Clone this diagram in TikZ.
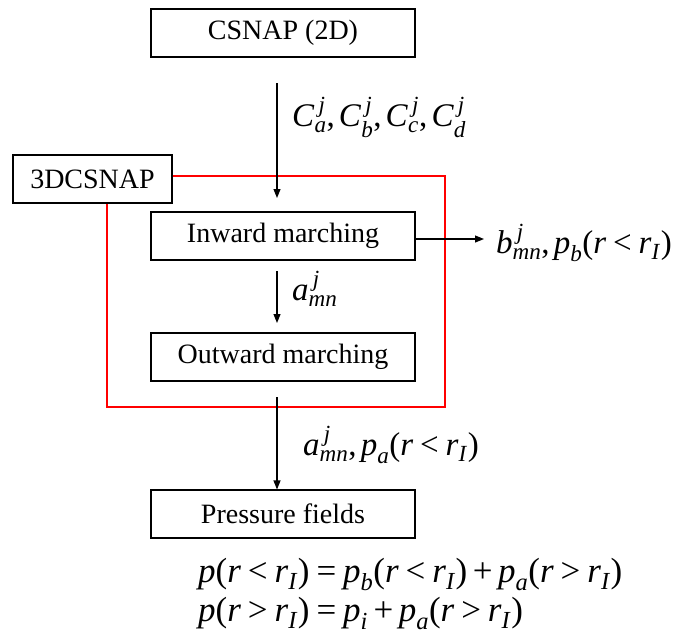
\documentclass[tikz,border=0pt]{standalone}
\usepackage{amsmath}
\usepackage{fontspec}
\setmainfont{Liberation Serif}
\usetikzlibrary{arrows.meta,calc}
\newcommand{\mv}[1]{\textit{#1\/}}
\newcommand{\sj}{^{\mkern3mu\mv{j}}}
\newcommand{\mlt}{\mathrel{\text{<}}}
\newcommand{\mgt}{\mathrel{\text{>}}}
\newcommand{\meq}{\mathrel{\text{=}}}
\newcommand{\mplus}{\mathbin{\text{+}}}
\newcommand{\mlp}{\text{(}}
\newcommand{\mrp}{\text{)}}
\newcommand{\mcm}{\mathpunct{\text{,}}}
\begin{document}
\begin{tikzpicture}[x=1pt,y=-1pt,
  box/.style={draw=black,line width=1.1pt,rectangle,inner sep=0pt,
    minimum width=264pt,minimum height=48pt,
    font=\fontsize{28}{33}\selectfont},
  smallbox/.style={box,minimum width=159pt},
  flow/.style={draw=black,line width=1.1pt,-{Triangle[length=9pt,width=7pt]}},
  redline/.style={draw=red,line width=1.1pt},
  lbl/.style={inner sep=0pt,anchor=base west,font=\fontsize{33}{40}\selectfont},
  eqn/.style={inner sep=0pt,anchor=base west,font=\fontsize{35}{40}\selectfont}]
\useasboundingbox (0,0) rectangle (686,635);
% boxes
\node[box] (csnap) at (283,33) {CSNAP (2D)};
\node[smallbox] (d3) at (92.5,179) {3DCSNAP};
\node[box] (inward) at (283,236) {Inward marching};
\node[box] (outward) at (283,357) {Outward marching};
\node[box] (pressure) at (283,514) {Pressure fields};
% red frame
\coordinate (r1) at (445,176);
\coordinate (r2) at (445,407);
\coordinate (r3) at (107,407);
\path[redline] ([yshift=3pt]d3.east) -- (r1) -- (r2) -- (r3) -- (d3.south -| r3);
% arrows
\coordinate (a1s) at (277,83);
\coordinate (a1e) at (277,198);
\draw[flow] (a1s) -- (a1e);
\coordinate (a2e) at (484,239);
\draw[flow] (inward.east |- a2e) -- (a2e);
\coordinate (a3s) at (277,271);
\coordinate (a3e) at (277,323);
\draw[flow] (a3s) -- (a3e);
\coordinate (a4s) at (277,397);
\draw[flow] (a4s) -- (a4s |- pressure.north);
% labels
\node[lbl] (lc) at (292,126) {$\mv{C}\sj_{\mv{a}}\mcm\mv{C}\sj_{\mv{b}}\mcm\mv{C}\sj_{\mv{c}}\mcm\mv{C}\sj_{\mv{d}}$};
\node[lbl] (lb) at (496,253) {$\mv{b}\sj_{\mv{mn}}\mcm\mv{p}_{\mv{b}}\mlp\mv{r}\mlt\mv{r}_{\mv{I}}\mrp$};
\node[lbl] (la) at (292,300) {$\mv{a}\sj_{\mv{mn}}$};
\node[lbl] (lap) at (303,455) {$\mv{a}\sj_{\mv{mn}}\mcm\mv{p}_{\mv{a}}\mlp\mv{r}\mlt\mv{r}_{\mv{I}}\mrp$};
\node[eqn] (e1) at (198,582) {$\mv{p}\mlp\mv{r}\mlt\mv{r}_{\mv{I}}\mrp\meq\mv{p}_{\mv{b}}\mlp\mv{r}\mlt\mv{r}_{\mv{I}}\mrp\mplus\mv{p}_{\mv{a}}\mlp\mv{r}\mgt\mv{r}_{\mv{I}}\mrp$};
\node[eqn] (e2) at (198,621) {$\mv{p}\mlp\mv{r}\mgt\mv{r}_{\mv{I}}\mrp\meq\mv{p}_{\mv{i}}\mplus\mv{p}_{\mv{a}}\mlp\mv{r}\mgt\mv{r}_{\mv{I}}\mrp$};
\end{tikzpicture}
\end{document}
